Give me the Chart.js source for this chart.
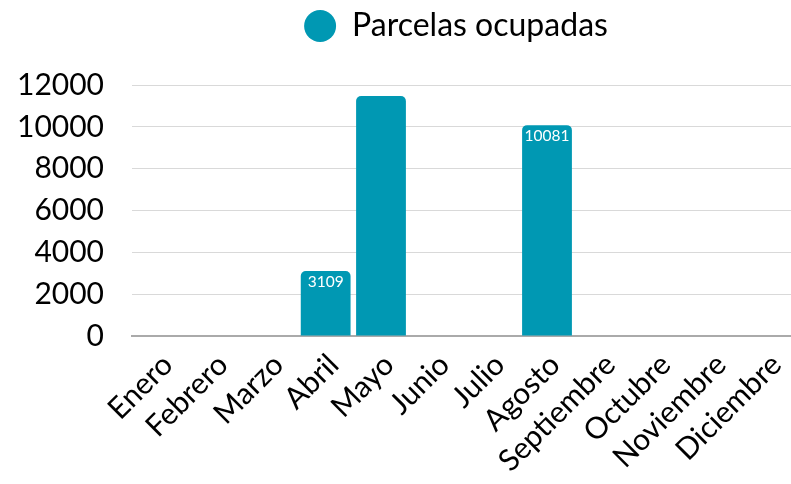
<!DOCTYPE html>
<html>
<head>
<meta charset="utf-8">
<script src="https://cdn.jsdelivr.net/npm/chart.js@4/dist/chart.umd.min.js"></script>
<style>
html,body{margin:0;padding:0;background:#fff;overflow:hidden;}
#wrap{width:800px;height:484px;position:relative;}
</style>
</head>
<body>
<div id="wrap"><canvas id="c" width="800" height="484"></canvas></div>
<script>
const categories = ["Enero","Febrero","Marzo","Abril","Mayo","Junio","Julio","Agosto","Septiembre","Octubre","Noviembre","Diciembre"];
const seriesName = "Parcelas ocupadas";
const values = [0,0,0,3109,11472,0,0,10081,0,0,0,0];
const showValueLabel = [false,false,false,true,false,false,false,true,false,false,false,false];
const yTicks = [0,2000,4000,6000,8000,10000,12000];

const barColor = "#0098b3";

const valueLabelPlugin = {
  id: "valueLabels",
  afterLayout(chart) {
    if (chart.legend) {
      chart.legend.left -= 8;
      chart.legend.right -= 8;
    }
  },
  afterDatasetsDraw(chart) {
    const ctx = chart.ctx;
    const meta = chart.getDatasetMeta(0);
    ctx.save();
    ctx.fillStyle = "#ffffff";
    ctx.font = "15.5px Lato";
    ctx.textAlign = "center";
    ctx.textBaseline = "top";
    meta.data.forEach((bar, i) => {
      if (!showValueLabel[i]) return;
      ctx.fillText(String(values[i]), bar.x, bar.y + 3);
    });
    ctx.restore();
  }
};

new Chart(document.getElementById("c"), {
  type: "bar",
  data: {
    labels: categories,
    datasets: [{
      label: seriesName,
      data: values,
      backgroundColor: barColor,
      borderColor: barColor,
      borderWidth: 0,
      borderRadius: 5,
      borderSkipped: "bottom",
      barPercentage: 0.9,
      categoryPercentage: 1.0
    }]
  },
  options: {
    responsive: false,
    animation: false,
    layout: { padding: { left: 17, right: 4, top: 0, bottom: 0 } },
    plugins: {
      legend: {
        display: true,
        position: "top",
        fullSize: false,
        labels: {
          usePointStyle: true,
          pointStyle: "circle",
          boxWidth: 32,
          boxHeight: 22.6,
          color: "#000",
          font: { family: "Lato", size: 32 },
          padding: 10
        }
      },
      subtitle: {
        display: true,
        text: "",
        position: "top",
        weight: 500,
        font: { size: 10, lineHeight: 1.2 },
        padding: { top: 0, bottom: 21 }
      },
      tooltip: { enabled: false }
    },
    scales: {
      x: {
        grid: { display: false, drawTicks: false },
        border: { display: true, color: "#aaaaaa", width: 2 },
        afterFit(s) { s.paddingLeft = 0; s.paddingRight = 0; s.height -= 6; },
        ticks: {
          color: "#000",
          font: { family: "Lato", size: 30 },
          minRotation: 45,
          maxRotation: 45,
          autoSkip: false,
          padding: 11,
          labelOffset: 8
        }
      },
      y: {
        min: 0,
        max: 12000,
        afterBuildTicks(axis) { axis.ticks = yTicks.map(v => ({ value: v })); },
        afterFit(s) { s.width -= 28; },
        grid: { color: "#d9d9d9", lineWidth: 1, drawTicks: false },
        border: { display: false },
        ticks: {
          color: "#000",
          font: { family: "Lato", size: 30 },
          padding: 28,
          callback: (v) => String(v)
        }
      }
    }
  },
  plugins: [valueLabelPlugin]
});
</script>
</body>
</html>
